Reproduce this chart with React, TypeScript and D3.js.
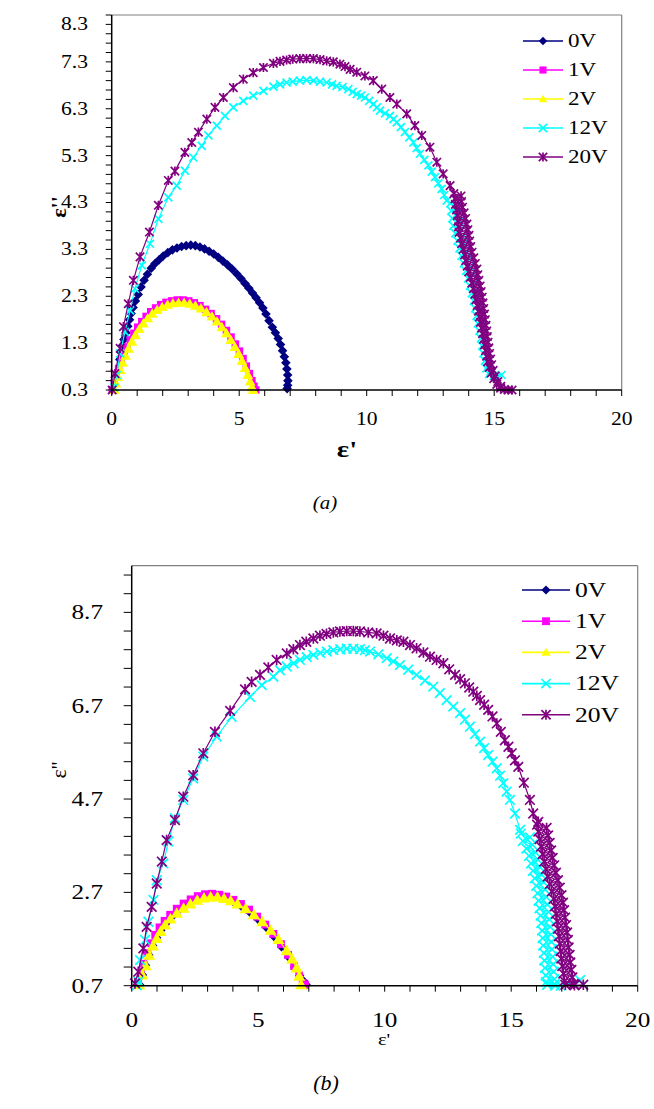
import React from "react";
import * as d3 from "d3";

type P = [number, number];

const seriesNames = ["0V", "1V", "2V", "12V", "20V"];
const seriesColors = ["#000080", "#FF00FF", "#FFFF00", "#00FFFF", "#800080"];
const seriesShapes = ["diamond", "square", "triangle", "x", "star"];

// ---------- (a) ----------
const xTicksA = [0, 5, 10, 15, 20];
const yTicksA = [0.3, 1.3, 2.3, 3.3, 4.3, 5.3, 6.3, 7.3, 8.3];

const a0V: P[] = [
  [0.32, 0.95], [0.37, 1.1], [0.42, 1.25], [0.48, 1.38], [0.56, 1.52], [0.63, 1.66], [0.7, 1.8], [0.76, 1.93],
  [0.84, 2.06], [0.93, 2.2], [1.04, 2.34], [1.15, 2.5], [1.27, 2.64], [1.4, 2.77], [1.55, 2.9], [1.7, 3.0],
  [1.86, 3.08], [2.02, 3.16], [2.2, 3.23], [2.38, 3.29], [2.56, 3.33], [2.74, 3.36], [2.92, 3.38], [3.1, 3.39],
  [3.28, 3.38], [3.46, 3.35], [3.64, 3.31], [3.82, 3.26], [4.0, 3.2], [4.18, 3.13], [4.36, 3.05], [4.54, 2.97],
  [4.72, 2.88], [4.9, 2.78], [5.07, 2.68], [5.23, 2.57], [5.38, 2.47], [5.52, 2.37], [5.66, 2.27], [5.8, 2.16],
  [5.93, 2.05], [6.05, 1.92], [6.17, 1.78], [6.3, 1.64], [6.42, 1.52], [6.53, 1.4], [6.62, 1.27], [6.7, 1.14],
  [6.77, 1.01], [6.83, 0.88], [6.87, 0.75], [6.9, 0.62], [6.91, 0.5], [6.9, 0.4], [6.88, 0.33],
];
const a1V: P[] = [
  [0.02, 0.3], [0.1, 0.45], [0.18, 0.6], [0.27, 0.76], [0.37, 0.92], [0.48, 1.07], [0.6, 1.22], [0.73, 1.37],
  [0.87, 1.51], [1.02, 1.64], [1.18, 1.76], [1.35, 1.87], [1.53, 1.97], [1.72, 2.05], [1.92, 2.12], [2.13, 2.17],
  [2.35, 2.2], [2.57, 2.22], [2.8, 2.22], [3.02, 2.2], [3.24, 2.16], [3.46, 2.1], [3.68, 2.02], [3.9, 1.93],
  [4.11, 1.82], [4.31, 1.7], [4.5, 1.57], [4.68, 1.43], [4.85, 1.28], [5.01, 1.13], [5.15, 0.97], [5.28, 0.81],
  [5.4, 0.65], [5.5, 0.5], [5.58, 0.38], [5.65, 0.3],
];
const a2V: P[] = [
  [0.1, 0.3], [0.16, 0.44], [0.24, 0.58], [0.33, 0.73], [0.43, 0.88], [0.54, 1.03], [0.66, 1.18], [0.79, 1.33],
  [0.93, 1.47], [1.08, 1.6], [1.24, 1.72], [1.41, 1.83], [1.59, 1.93], [1.78, 2.01], [1.98, 2.07], [2.19, 2.12],
  [2.4, 2.15], [2.62, 2.16], [2.84, 2.16], [3.06, 2.14], [3.28, 2.1], [3.5, 2.04], [3.72, 1.96], [3.93, 1.87],
  [4.13, 1.76], [4.32, 1.64], [4.5, 1.51], [4.67, 1.37], [4.83, 1.22], [4.98, 1.07], [5.11, 0.92], [5.23, 0.77],
  [5.34, 0.62], [5.43, 0.48], [5.5, 0.36], [5.55, 0.3],
];
const a12V: P[] = [
  [0.1, 0.35], [0.2, 0.62], [0.33, 1.08], [0.52, 1.54], [0.72, 2.0], [0.91, 2.46], [1.18, 2.96], [1.5, 3.42],
  [1.83, 3.95], [2.22, 4.41], [2.55, 4.66], [2.87, 4.98], [3.2, 5.26], [3.53, 5.51], [3.79, 5.73], [4.12, 5.94],
  [4.44, 6.15], [4.77, 6.33], [5.16, 6.47], [5.55, 6.58], [5.95, 6.68], [6.34, 6.77], [6.6, 6.82], [6.86, 6.86],
  [7.1, 6.88], [7.38, 6.9], [7.64, 6.91], [7.91, 6.9], [8.17, 6.88], [8.43, 6.86], [8.64, 6.82], [8.82, 6.79],
  [9.05, 6.76], [9.28, 6.72], [9.45, 6.66], [9.61, 6.61], [9.78, 6.58], [9.93, 6.54], [10.1, 6.47], [10.26, 6.4],
  [10.4, 6.33], [10.52, 6.26], [10.72, 6.2], [10.91, 6.15], [11.05, 6.08], [11.18, 6.01], [11.34, 5.91], [11.5, 5.8],
  [11.67, 5.69], [11.83, 5.58], [11.96, 5.46], [12.09, 5.34], [12.26, 5.21], [12.42, 5.09], [12.55, 4.96], [12.68, 4.84],
  [12.81, 4.71], [12.94, 4.59], [13.04, 4.46], [13.14, 4.34],
  [13.28, 4.28], [13.52, 4.2], [13.32, 4.12], [13.58, 4.04], [13.36, 3.96], [13.64, 3.88], [13.4, 3.8], [13.7, 3.72],
  [13.48, 3.64], [13.76, 3.56], [13.56, 3.48], [13.84, 3.4], [13.64, 3.32], [13.92, 3.24], [13.72, 3.16], [14.0, 3.08],
  [13.81, 3.0], [14.08, 2.92], [13.9, 2.84], [14.16, 2.76], [13.98, 2.68], [14.24, 2.6], [14.05, 2.52], [14.3, 2.44],
  [14.12, 2.36], [14.36, 2.28], [14.2, 2.2], [14.42, 2.12], [14.26, 2.04], [14.47, 1.96], [14.31, 1.88], [14.52, 1.8],
  [14.36, 1.72], [14.56, 1.64], [14.42, 1.56], [14.6, 1.48], [14.48, 1.4], [14.64, 1.32], [14.53, 1.24], [14.68, 1.16],
  [14.58, 1.08], [14.72, 1.0], [14.64, 0.92], [14.78, 0.84], [14.7, 0.76], [14.86, 0.7], [14.8, 0.64], [14.98, 0.6],
  [15.1, 0.58], [15.29, 0.62],
];
const a20V: P[] = [
  [0.02, 0.3], [0.13, 0.65], [0.33, 1.19], [0.46, 1.65], [0.65, 2.14], [0.85, 2.64], [1.11, 3.14], [1.48, 3.67],
  [1.83, 4.24], [2.22, 4.77], [2.48, 4.97], [2.87, 5.37], [3.14, 5.58], [3.4, 5.8], [3.73, 6.08], [4.05, 6.33],
  [4.38, 6.54], [4.77, 6.75], [5.16, 6.93], [5.55, 7.07], [5.95, 7.18], [6.34, 7.27], [6.6, 7.31], [6.86, 7.34],
  [7.1, 7.36], [7.38, 7.37], [7.64, 7.37], [7.91, 7.37], [8.17, 7.35], [8.43, 7.32], [8.69, 7.3], [8.95, 7.25],
  [9.15, 7.2], [9.35, 7.14], [9.61, 7.08], [9.93, 7.0], [10.26, 6.9], [10.59, 6.72], [10.91, 6.54], [11.18, 6.4],
  [11.57, 6.19], [11.89, 5.94], [12.16, 5.73], [12.48, 5.48], [12.75, 5.16], [13.0, 4.91], [13.27, 4.66],
  [13.42, 4.49], [13.7, 4.44], [13.46, 4.38], [13.72, 4.32], [13.48, 4.26], [13.76, 4.2], [13.52, 4.14], [13.82, 4.08],
  [13.55, 4.02], [13.88, 3.96], [13.58, 3.9], [13.93, 3.84], [13.6, 3.78], [13.97, 3.72], [13.62, 3.66], [14.01, 3.6],
  [13.68, 3.54], [14.04, 3.48], [13.72, 3.42], [14.08, 3.36], [13.78, 3.3], [14.13, 3.24], [13.84, 3.18], [14.2, 3.12],
  [13.88, 3.06], [14.26, 3.0], [13.94, 2.94], [14.32, 2.88], [14.0, 2.82], [14.36, 2.76], [14.06, 2.7], [14.4, 2.64],
  [14.12, 2.58], [14.45, 2.52], [14.18, 2.46], [14.49, 2.4], [14.24, 2.34], [14.53, 2.28], [14.28, 2.22], [14.56, 2.16],
  [14.33, 2.1], [14.59, 2.04], [14.38, 1.98], [14.62, 1.92], [14.42, 1.86], [14.65, 1.8], [14.46, 1.74], [14.68, 1.68],
  [14.5, 1.62], [14.71, 1.56], [14.54, 1.5], [14.73, 1.44], [14.58, 1.38], [14.76, 1.32], [14.62, 1.26], [14.79, 1.2],
  [14.66, 1.14], [14.82, 1.08], [14.7, 1.02], [14.86, 0.96], [14.74, 0.9], [14.9, 0.84], [14.8, 0.78], [14.96, 0.72],
  [14.88, 0.66], [15.04, 0.6], [14.98, 0.54], [15.14, 0.48], [15.1, 0.42], [15.26, 0.38], [15.25, 0.34], [15.4, 0.31],
  [15.55, 0.3], [15.7, 0.3],
];

// ---------- (b) ----------
const xTicksB = [0, 5, 10, 15, 20];
const yTicksB = [0.7, 2.7, 4.7, 6.7, 8.7];

const b0V: P[] = [
  [0.32, 0.72], [0.43, 0.93], [0.55, 1.14], [0.68, 1.36], [0.83, 1.56], [0.99, 1.73], [1.16, 1.89], [1.35, 2.03],
  [1.57, 2.16], [1.82, 2.29], [2.09, 2.4], [2.37, 2.49], [2.65, 2.56], [2.93, 2.6], [3.21, 2.61], [3.49, 2.59],
  [3.77, 2.55], [4.05, 2.48], [4.35, 2.39], [4.67, 2.27], [4.99, 2.12], [5.31, 1.95], [5.62, 1.75], [5.92, 1.53],
  [6.2, 1.31], [6.44, 1.1], [6.64, 0.92], [6.8, 0.8], [6.9, 0.72],
];
const b1V: P[] = [
  [0.25, 0.72], [0.36, 0.95], [0.48, 1.17], [0.62, 1.4], [0.77, 1.61], [0.93, 1.79], [1.1, 1.95], [1.3, 2.09],
  [1.52, 2.22], [1.78, 2.35], [2.05, 2.46], [2.33, 2.55], [2.61, 2.62], [2.9, 2.66], [3.18, 2.67], [3.46, 2.65],
  [3.74, 2.61], [4.02, 2.54], [4.32, 2.45], [4.64, 2.33], [4.96, 2.18], [5.28, 2.01], [5.6, 1.81], [5.9, 1.59],
  [6.18, 1.36], [6.42, 1.12], [6.62, 0.92], [6.76, 0.76], [6.85, 0.72],
];
const b2V: P[] = [
  [0.3, 0.72], [0.42, 0.93], [0.55, 1.13], [0.69, 1.35], [0.84, 1.55], [0.99, 1.71], [1.14, 1.86], [1.32, 2.0],
  [1.53, 2.13], [1.78, 2.25], [2.05, 2.36], [2.32, 2.45], [2.59, 2.53], [2.86, 2.58], [3.12, 2.6], [3.39, 2.6],
  [3.65, 2.57], [3.91, 2.52], [4.18, 2.45], [4.5, 2.35], [4.83, 2.22], [5.16, 2.07], [5.49, 1.89], [5.8, 1.69],
  [6.12, 1.45], [6.34, 1.27], [6.52, 1.08], [6.62, 0.9], [6.7, 0.72],
];
const b12V: P[] = [
  [0.2, 0.71], [0.26, 0.79], [0.33, 1.25], [0.53, 1.68], [0.66, 2.07], [0.86, 2.54], [0.99, 2.96], [1.25, 3.32],
  [1.45, 3.79], [1.71, 4.29], [2.04, 4.68], [2.43, 5.14], [2.83, 5.61], [3.36, 6.04], [3.95, 6.46], [4.68, 6.89],
  [5.14, 7.14], [5.6, 7.32], [5.86, 7.46], [6.13, 7.54], [6.4, 7.61], [6.65, 7.68], [6.92, 7.74], [7.18, 7.79],
  [7.45, 7.83], [7.71, 7.86], [7.97, 7.89], [8.24, 7.91], [8.5, 7.92], [8.76, 7.92], [9.02, 7.91], [9.22, 7.89],
  [9.42, 7.86], [9.75, 7.8], [10.08, 7.72], [10.34, 7.65], [10.6, 7.57], [10.93, 7.47], [11.26, 7.36], [11.59, 7.24],
  [11.92, 7.11], [12.18, 6.97], [12.45, 6.82], [12.71, 6.68], [12.98, 6.54], [13.17, 6.4], [13.37, 6.25], [13.57, 6.09],
  [13.77, 5.93], [13.93, 5.79], [14.09, 5.64], [14.26, 5.5], [14.43, 5.36], [14.56, 5.2], [14.69, 5.04], [14.82, 4.86],
  [14.95, 4.68], [15.15, 4.39], [15.35, 4.04],
  [15.38, 3.96], [15.74, 3.88], [15.46, 3.8], [15.84, 3.72], [15.6, 3.64], [15.96, 3.56], [15.7, 3.48], [16.06, 3.4],
  [15.78, 3.32], [16.14, 3.24], [15.86, 3.16], [16.2, 3.08], [15.93, 3.0], [16.28, 2.92], [15.99, 2.84], [16.34, 2.76],
  [16.04, 2.68], [16.39, 2.6], [16.08, 2.52], [16.43, 2.44], [16.12, 2.36], [16.48, 2.28], [16.16, 2.2], [16.51, 2.12],
  [16.19, 2.04], [16.54, 1.96], [16.22, 1.88], [16.57, 1.8], [16.24, 1.72], [16.59, 1.64], [16.26, 1.56], [16.61, 1.48],
  [16.29, 1.4], [16.64, 1.32], [16.31, 1.24], [16.66, 1.16], [16.33, 1.08], [16.68, 1.0], [16.36, 0.92], [16.71, 0.84],
  [16.38, 0.78], [16.72, 0.74], [16.42, 0.72], [16.74, 0.7], [16.95, 0.7], [17.72, 0.82],
];
const b20V: P[] = [
  [0.13, 0.75], [0.26, 1.0], [0.46, 1.5], [0.59, 1.96], [0.79, 2.39], [0.99, 2.89], [1.19, 3.36], [1.38, 3.82],
  [1.71, 4.25], [2.04, 4.75], [2.43, 5.21], [2.83, 5.68], [3.29, 6.14], [3.89, 6.59], [4.48, 7.05], [4.74, 7.21],
  [5.07, 7.36], [5.4, 7.52], [5.73, 7.68], [6.13, 7.82], [6.39, 7.91], [6.65, 8.0], [6.9, 8.07], [7.18, 8.14],
  [7.44, 8.2], [7.7, 8.24], [7.97, 8.27], [8.23, 8.29], [8.5, 8.3], [8.76, 8.3], [9.02, 8.29], [9.35, 8.27],
  [9.68, 8.25], [9.95, 8.2], [10.21, 8.14], [10.48, 8.1], [10.74, 8.07], [11.0, 8.0], [11.26, 7.93], [11.53, 7.84],
  [11.79, 7.75], [12.05, 7.68], [12.32, 7.61], [12.55, 7.48], [12.78, 7.36], [12.98, 7.27], [13.17, 7.18], [13.34, 7.09],
  [13.5, 7.0], [13.64, 6.91], [13.77, 6.82], [13.93, 6.72], [14.09, 6.61], [14.26, 6.47], [14.43, 6.32], [14.59, 6.14],
  [14.75, 5.96], [14.89, 5.82], [15.02, 5.68], [15.15, 5.53], [15.28, 5.39], [15.5, 5.05], [15.74, 4.68], [15.87, 4.39],
  [16.07, 4.21],
  [16.02, 4.15], [16.4, 4.08], [16.07, 4.0], [16.46, 3.92], [16.12, 3.84], [16.52, 3.76], [16.18, 3.68], [16.58, 3.6],
  [16.24, 3.52], [16.64, 3.44], [16.3, 3.36], [16.7, 3.28], [16.37, 3.2], [16.77, 3.12], [16.44, 3.04], [16.85, 2.96],
  [16.52, 2.88], [16.92, 2.8], [16.6, 2.72], [16.99, 2.64], [16.68, 2.56], [17.05, 2.48], [16.73, 2.4], [17.09, 2.32],
  [16.77, 2.24], [17.13, 2.16], [16.81, 2.08], [17.17, 2.0], [16.85, 1.92], [17.21, 1.84], [16.89, 1.76], [17.24, 1.68],
  [16.92, 1.6], [17.27, 1.52], [16.95, 1.44], [17.31, 1.36], [16.98, 1.28], [17.34, 1.2], [17.02, 1.12], [17.38, 1.04],
  [17.06, 0.96], [17.42, 0.88], [17.1, 0.8], [17.47, 0.74], [17.14, 0.72], [17.5, 0.71], [17.85, 0.72],
];

const FONT = "'Liberation Serif', 'Times New Roman', serif";

function Marker({ shape, x, y, color, r }: { shape: string; x: number; y: number; color: string; r: number }) {
  if (shape === "diamond")
    return <path d={`M${x},${y - r}L${x + r},${y}L${x},${y + r}L${x - r},${y}Z`} fill={color} />;
  if (shape === "square")
    return <rect x={x - r * 0.85} y={y - r * 0.85} width={r * 1.7} height={r * 1.7} fill={color} />;
  if (shape === "triangle")
    return <path d={`M${x},${y - r}L${x + r},${y + r * 0.75}L${x - r},${y + r * 0.75}Z`} fill={color} />;
  if (shape === "x")
    return (
      <path d={`M${x - r},${y - r}L${x + r},${y + r}M${x - r},${y + r}L${x + r},${y - r}`} stroke={color} strokeWidth={1.7} fill="none" />
    );
  return (
    <path
      d={`M${x - r},${y - r}L${x + r},${y + r}M${x - r},${y + r}L${x + r},${y - r}M${x},${y - r * 1.1}L${x},${y + r * 1.1}`}
      stroke={color}
      strokeWidth={1.7}
      fill="none"
    />
  );
}

function Txt({ x, y, sx, size, anchor, children, style, weight }: any) {
  return (
    <text
      transform={`translate(${x},${y}) scale(${sx},1)`}
      fontFamily={FONT}
      fontSize={size}
      textAnchor={anchor || "start"}
      fontStyle={style || "normal"}
      fontWeight={weight || "normal"}
      fill="#000"
    >
      {children}
    </text>
  );
}

type ChartCfg = {
  left: number; right: number; top: number; bottom: number;
  xDomain: [number, number]; yDomain: [number, number];
  xTicks: number[]; yTicks: number[]; yMinorStep: number; xMinorStep: number;
  data: P[][]; fontSize: number; yLabelRight: number; xLabelBase: number;
  legendX: number; legendY: number; legendStep: number; legendLine: number; legendFont: number;
  markerR: number[]; legendR: number; ytickLen: number;
};

function Chart({ c }: { c: ChartCfg }) {
  const x = d3.scaleLinear().domain(c.xDomain).range([c.left, c.right]);
  const y = d3.scaleLinear().domain(c.yDomain).range([c.bottom, c.top]);
  const line = d3.line<P>().x((d) => x(d[0])).y((d) => y(d[1]));
  const nY = Math.floor((c.yDomain[1] - c.yDomain[0]) / c.yMinorStep + 1e-6);
  const yMinor = d3.range(nY + 1).map((i) => c.yDomain[0] + i * c.yMinorStep);
  const nX = Math.floor((c.xDomain[1] - c.xDomain[0]) / c.xMinorStep + 1e-6);
  const xMinor = d3.range(nX + 1).map((i) => c.xDomain[0] + i * c.xMinorStep);
  const fmt = d3.format(".1f");
  return (
    <g>
      <line x1={c.left} x2={c.right} y1={c.top} y2={c.top} stroke="#808080" strokeWidth={1.2} />
      <line x1={c.right} x2={c.right} y1={c.top} y2={c.bottom} stroke="#808080" strokeWidth={1.2} />
      {c.data.map((d, i) => (
        <g key={i}>
          <path d={line(d) || ""} fill="none" stroke={seriesColors[i]} strokeWidth={1.2} />
          {d.map((p, j) => (
            <Marker key={j} shape={seriesShapes[i]} x={x(p[0])} y={y(p[1])} color={seriesColors[i]} r={c.markerR[i]} />
          ))}
        </g>
      ))}
      <line x1={c.left} x2={c.left} y1={c.top} y2={c.bottom} stroke="#000" strokeWidth={1.5} />
      <line x1={c.left} x2={c.right} y1={c.bottom} y2={c.bottom} stroke="#000" strokeWidth={1.5} />
      {yMinor.map((v, i) => (
        <line key={"ym" + i} x1={c.left - c.ytickLen} x2={c.left} y1={y(v)} y2={y(v)} stroke="#000" strokeWidth={1} />
      ))}
      {xMinor.map((v, i) => (
        <line key={"xm" + i} x1={x(v)} x2={x(v)} y1={c.bottom} y2={c.bottom + 6} stroke="#000" strokeWidth={1} />
      ))}
      {c.yTicks.map((v, i) => (
        <Txt key={"yl" + i} x={c.yLabelRight} y={Math.max(y(v), c.top + 9) + c.fontSize * 0.33} sx={1.2} size={c.fontSize} anchor="end">
          {fmt(v)}
        </Txt>
      ))}
      {c.xTicks.map((v, i) => (
        <Txt key={"xl" + i} x={x(v)} y={c.xLabelBase} sx={1.2} size={c.fontSize} anchor="middle">
          {String(v)}
        </Txt>
      ))}
      {seriesNames.map((n, i) => {
        const ly = c.legendY + i * c.legendStep;
        const mx = c.legendX + c.legendLine / 2;
        return (
          <g key={"lg" + i}>
            <line x1={c.legendX} x2={c.legendX + c.legendLine} y1={ly} y2={ly} stroke={seriesColors[i]} strokeWidth={1.6} />
            <Marker shape={seriesShapes[i]} x={mx} y={ly} color={seriesColors[i]} r={c.legendR} />
            <Txt x={c.legendX + c.legendLine + 5} y={ly + c.legendFont * 0.34} sx={1.28} size={c.legendFont}>
              {n}
            </Txt>
          </g>
        );
      })}
    </g>
  );
}

const cfgA: ChartCfg = {
  left: 111.7, right: 621.7, top: 15, bottom: 390,
  xDomain: [0, 20], yDomain: [0.3, 8.3],
  xTicks: xTicksA, yTicks: yTicksA, yMinorStep: 0.2, xMinorStep: 1,
  data: [a0V, a1V, a2V, a12V, a20V], fontSize: 18, yLabelRight: 88, xLabelBase: 425,
  legendX: 523, legendY: 41, legendStep: 29, legendLine: 40, legendFont: 18,
  markerR: [4.8, 4.4, 5.4, 4, 4.2], legendR: 4.2, ytickLen: 6,
};
const cfgB: ChartCfg = {
  left: 131.7, right: 637.7, top: 565.7, bottom: 985.7,
  xDomain: [0, 20], yDomain: [0.7, 9.7],
  xTicks: xTicksB, yTicks: yTicksB, yMinorStep: 0.4, xMinorStep: 1,
  data: [b0V, b1V, b2V, b12V, b20V], fontSize: 21, yLabelRight: 103, xLabelBase: 1027,
  legendX: 522, legendY: 590, legendStep: 31.2, legendLine: 48, legendFont: 20,
  markerR: [4.6, 4.6, 6.0, 4.8, 4.8], legendR: 4.6, ytickLen: 8,
};

export default function App() {
  return (
    <svg width={654} height={1109} style={{ position: "absolute", left: 0, top: 0, background: "#fff" }}>
      <rect width={654} height={1109} fill="#fff" />
      <Chart c={cfgA} />
      <Chart c={cfgB} />
      <Txt x={347} y={457} sx={1.2} size={24} anchor="middle" weight="bold">ε'</Txt>
      <g transform="translate(66,207) rotate(-90)">
        <Txt x={0} y={0} sx={1} size={22} anchor="middle" weight="bold">ε''</Txt>
      </g>
      <Txt x={325} y={509} sx={1.1} size={19} anchor="middle" style="italic">(a)</Txt>
      <Txt x={384} y={1045} sx={1.2} size={17} anchor="middle">ε'</Txt>
      <g transform="translate(66,770) rotate(-90)">
        <Txt x={0} y={0} sx={1} size={22} anchor="middle">ε''</Txt>
      </g>
      <Txt x={326} y={1090} sx={1.1} size={20} anchor="middle" style="italic">(b)</Txt>
    </svg>
  );
}
